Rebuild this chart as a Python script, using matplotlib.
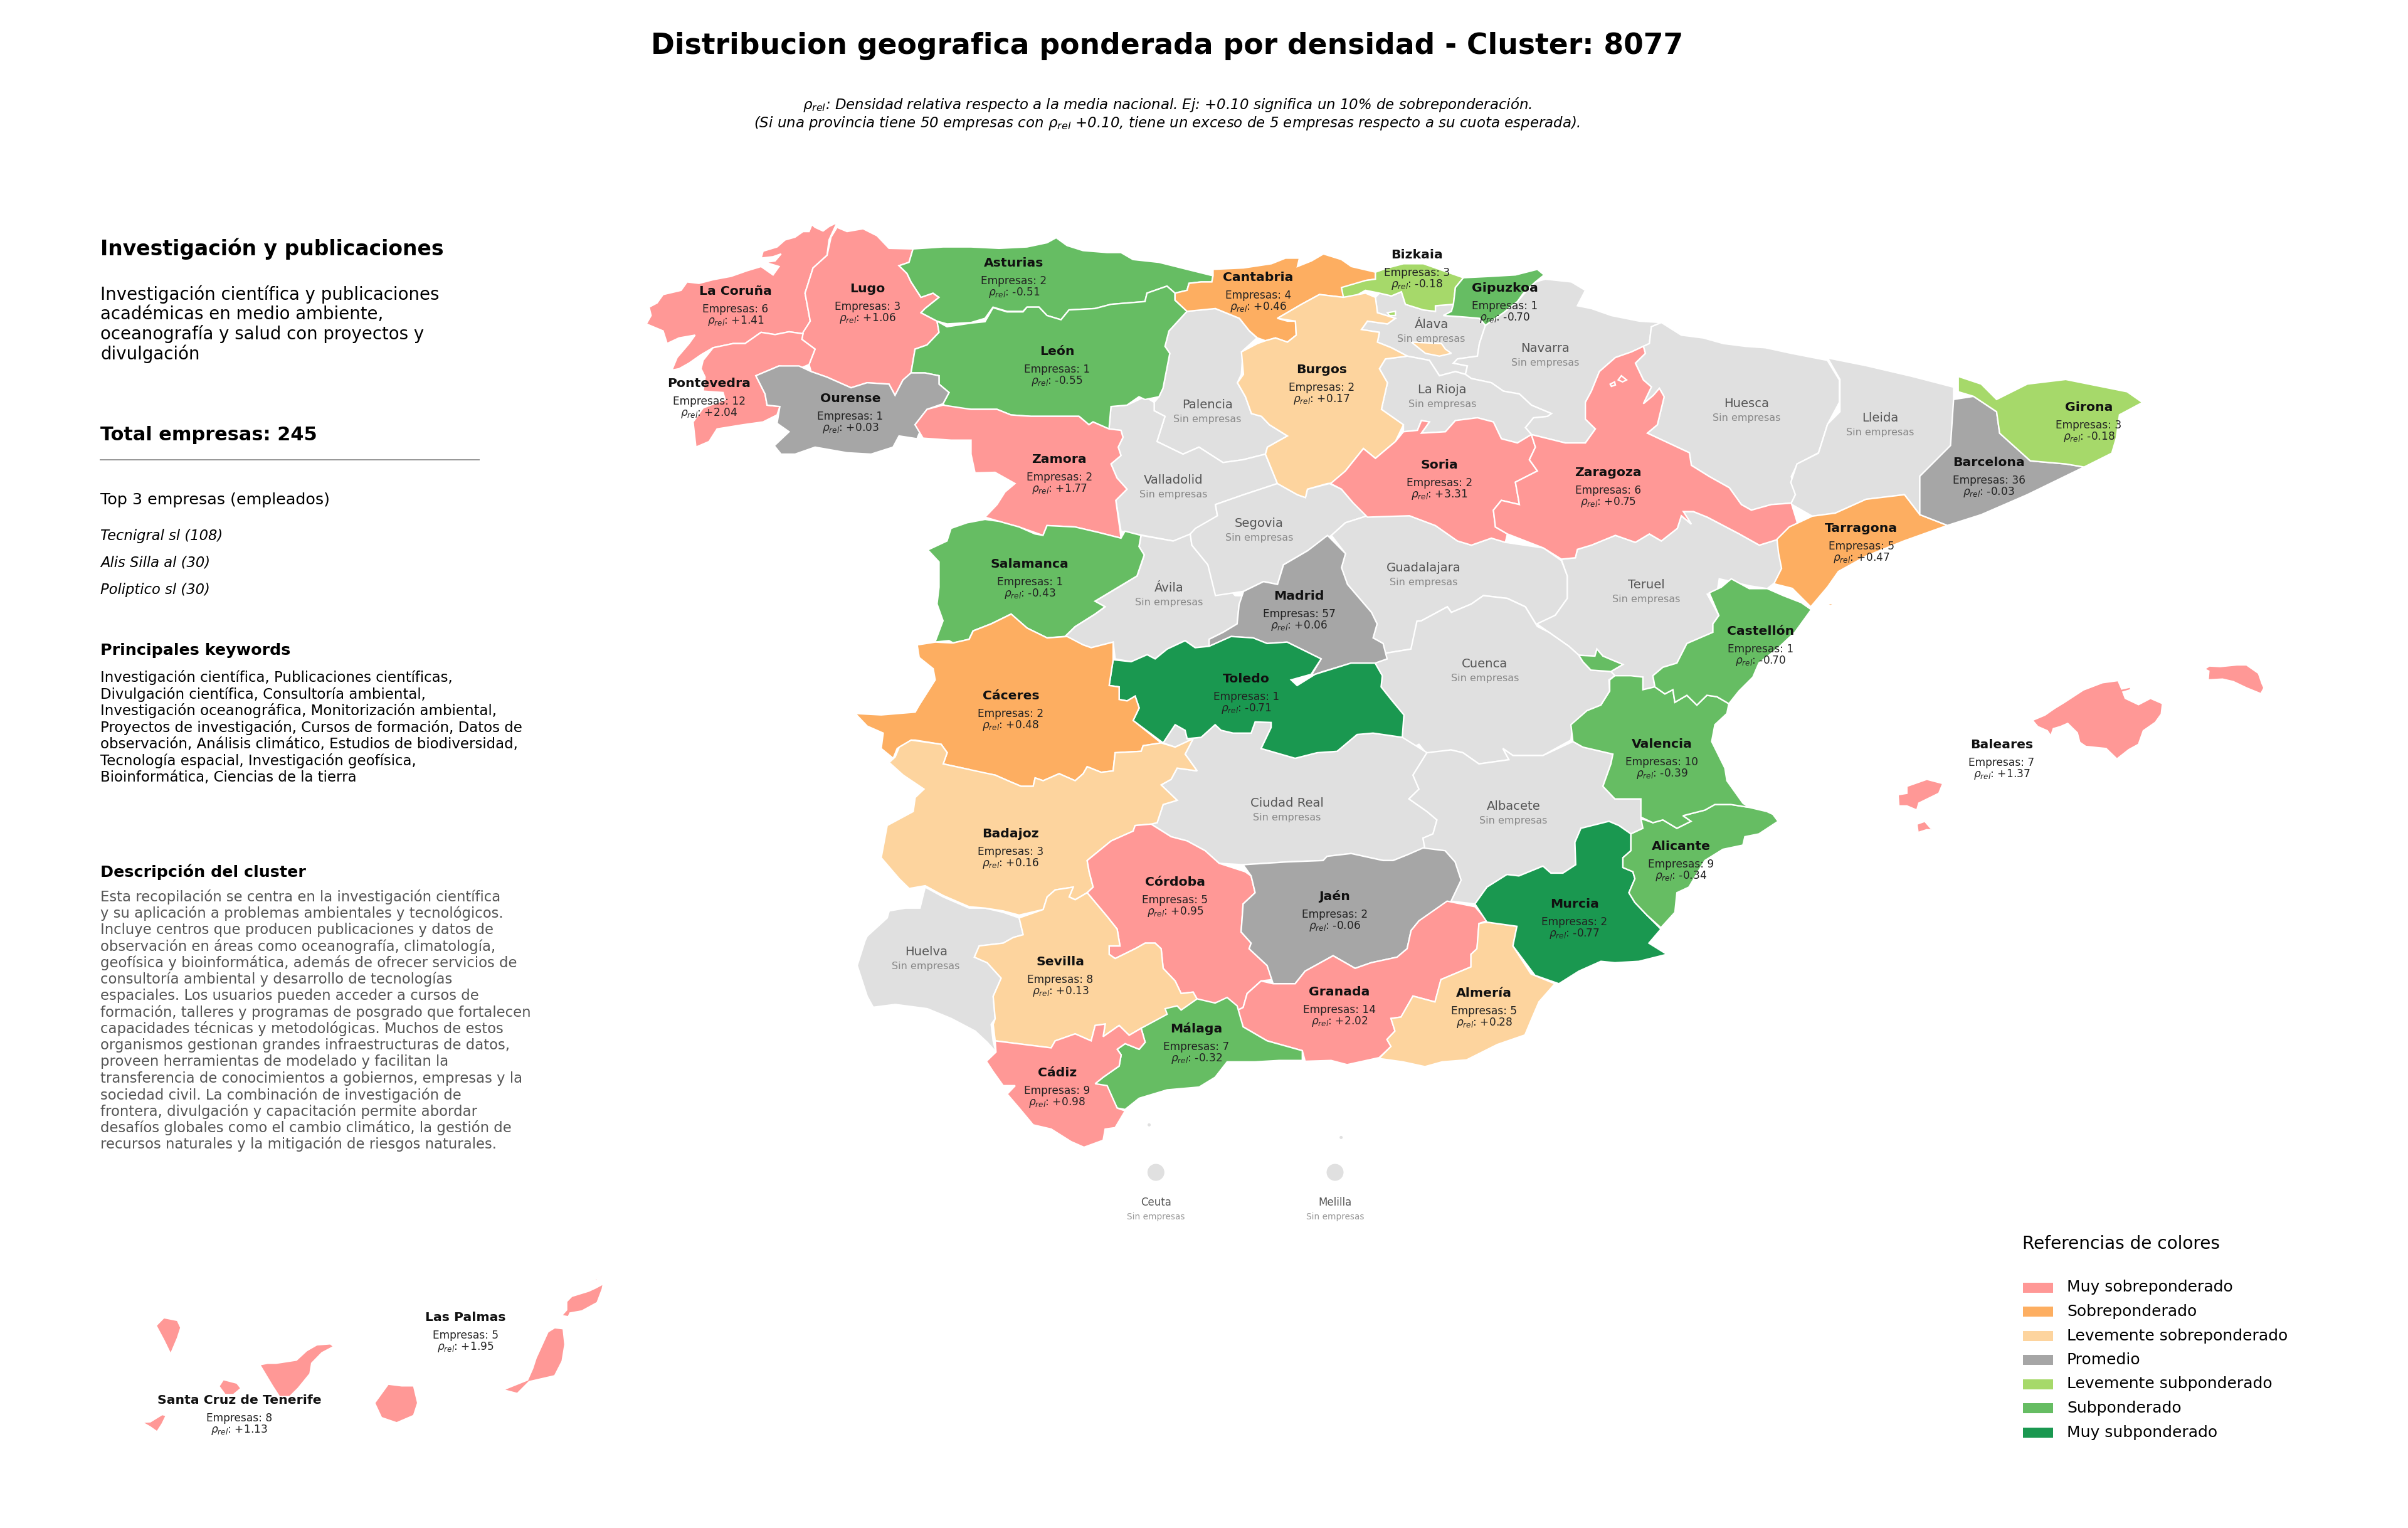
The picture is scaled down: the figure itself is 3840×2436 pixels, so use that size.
import matplotlib
matplotlib.use("Agg")
import matplotlib.pyplot as plt
from matplotlib.patches import Polygon, Circle, Rectangle

# provincias con empresas
provincias = ["La Coruña", "Lugo", "Asturias", "León", "Pontevedra", "Ourense", "Zamora", "Salamanca",
              "Cantabria", "Bizkaia", "Gipuzkoa", "Burgos", "Soria", "Zaragoza", "Madrid", "Toledo",
              "Cáceres", "Badajoz", "Córdoba", "Jaén", "Sevilla", "Granada", "Málaga", "Cádiz",
              "Almería", "Murcia", "Alicante", "Valencia", "Castellón", "Tarragona", "Barcelona",
              "Girona", "Baleares", "Las Palmas", "Santa Cruz de Tenerife"]
empresas = [6, 3, 2, 1, 12, 1, 2, 1, 4, 3, 1, 2, 2, 6, 57, 1, 2, 3, 5, 2, 8, 14, 7, 9, 5, 2, 9, 10, 1, 5, 36, 3, 7, 5, 8]
rho = [1.41, 1.06, -0.51, -0.55, 2.04, 0.03, 1.77, -0.43, 0.46, -0.18, -0.70, 0.17, 3.31, 0.75, 0.06, -0.71,
       0.48, 0.16, 0.95, -0.06, 0.13, 2.02, -0.32, 0.98, 0.28, -0.77, -0.34, -0.39, -0.70, 0.47, -0.03,
       -0.18, 1.37, 1.95, 1.13]
sin_empresas = ["Palencia", "Valladolid", "Ávila", "Segovia", "Álava", "Navarra", "La Rioja", "Huesca",
                "Lleida", "Guadalajara", "Teruel", "Cuenca", "Ciudad Real", "Albacete", "Huelva"]

categorias = ["Muy sobreponderado", "Sobreponderado", "Levemente sobreponderado", "Promedio",
              "Levemente subponderado", "Subponderado", "Muy subponderado"]
colores = ["#ff9896", "#fdae61", "#fdd49e", "#a6a6a6", "#a6d96a", "#66bd63", "#1a9850"]
limites = [0.5, 0.3, 0.1, -0.1, -0.3, -0.705]
sin_color = "#e0e0e0"

titulo = "Distribucion geografica ponderada por densidad - Cluster: 8077"
nota1 = r"$\rho_{rel}$: Densidad relativa respecto a la media nacional. Ej: +0.10 significa un 10% de sobreponderación."
nota2 = r"(Si una provincia tiene 50 empresas con $\rho_{rel}$ +0.10, tiene un exceso de 5 empresas respecto a su cuota esperada)."
nombre_cluster = "Investigación y publicaciones"
resumen = ["Investigación científica y publicaciones", "académicas en medio ambiente,",
           "oceanografía y salud con proyectos y", "divulgación"]
top3 = ["Tecnigral sl (108)", "Alis Silla al (30)", "Poliptico sl (30)"]
keywords = ["Investigación científica, Publicaciones científicas,",
            "Divulgación científica, Consultoría ambiental,",
            "Investigación oceanográfica, Monitorización ambiental,",
            "Proyectos de investigación, Cursos de formación, Datos de",
            "observación, Análisis climático, Estudios de biodiversidad,",
            "Tecnología espacial, Investigación geofísica,",
            "Bioinformática, Ciencias de la tierra"]
descripcion = ["Esta recopilación se centra en la investigación científica",
               "y su aplicación a problemas ambientales y tecnológicos.",
               "Incluye centros que producen publicaciones y datos de",
               "observación en áreas como oceanografía, climatología,",
               "geofísica y bioinformática, además de ofrecer servicios de",
               "consultoría ambiental y desarrollo de tecnologías",
               "espaciales. Los usuarios pueden acceder a cursos de",
               "formación, talleres y programas de posgrado que fortalecen",
               "capacidades técnicas y metodológicas. Muchos de estos",
               "organismos gestionan grandes infraestructuras de datos,",
               "proveen herramientas de modelado y facilitan la",
               "transferencia de conocimientos a gobiernos, empresas y la",
               "sociedad civil. La combinación de investigación de",
               "frontera, divulgación y capacitación permite abordar",
               "desafíos globales como el cambio climático, la gestión de",
               "recursos naturales y la mitigación de riesgos naturales."]

# contornos calcados del mapa, cada tramo en su recorte (x0, y0, escala x, escala y)
recortes = {"nw": (1000, 320, 1.568, 2.24), "ne": (1900, 320, 1.568, 2.24), "c": (1300, 950, 1.568, 2.24),
            "s": (1300, 1300, 1.568, 2.24), "e": (2250, 950, 1.568, 2.24), "full": (0, 0, 0.4083, 0.4083),
            "bal": (3150, 1040, 2.613, 3.0), "can": (180, 2010, 1.845, 3.0), "ceu": (1750, 1800, 3.0, 3.0)}

contornos = {
    "La Coruña": [("nw", [(525,78),(505,92),(490,108),(470,95),(462,85),(455,110),(440,110),(420,130),(395,140),(375,165),(340,180),(335,205),(365,200),(385,190),(370,215),(345,220),(380,235),(365,265),(335,235),(300,250),(260,270),(215,282),(180,295),(150,290),(135,320),(90,335),(75,365),(55,380),(60,410),(48,440),(90,465),(100,510),(130,490),(170,480),(155,510),(125,560),(112,605),(130,600),(155,580),(185,550),(215,525),(265,510),(295,510),(335,470),(370,478),(405,468),(440,475),(458,430),(445,330),(465,240),(500,195),(505,140)])],
    "Lugo": [("nw", [(525,95),(550,110),(590,100),(625,125),(655,170),(715,172),(705,220),(680,232),(700,260),(710,290),(735,345),(765,330),(780,345),(745,385),(735,400),(775,430),(780,470),(750,515),(720,530),(710,615),(690,640),(670,695),(655,655),(600,650),(560,668),(500,630),(460,610),(455,585),(470,530),(437,495),(440,470),(458,430),(445,330),(465,240),(500,195),(510,130)])],
    "Asturias": [("nw", [(715,172),(790,165),(860,165),(930,170),(1000,165),(1050,150),(1073,132),(1100,160),(1140,178),(1200,185),(1235,185),(1265,210),(1330,220),(1400,245),(1465,268),(1462,290),(1435,290),(1405,295),(1400,320),(1370,330),(1350,305),(1300,330),(1295,360),(1210,370),(1170,385),(1105,390),(1085,425),(1050,410),(1030,380),(1000,380),(990,395),(950,395),(915,380),(895,420),(860,435),(800,440),(775,430),(735,400),(745,385),(780,345),(765,330),(735,345),(710,290),(700,260),(680,232),(705,220)])],
    "León": [("nw", [(775,430),(800,450),(860,437),(895,432),(915,382),(950,397),(990,397),(1000,380),(1030,380),(1050,410),(1085,425),(1105,390),(1170,385),(1210,370),(1295,360),(1300,330),(1350,305),(1370,330),(1370,355),(1400,395),(1355,465),(1345,520),(1357,545),(1340,670),(1330,700),(1295,710),(1280,700),(1250,730),(1210,735),(1205,815),(1165,790),(1155,800),(1130,770),(1090,770),(1050,770),(1010,770),(960,765),(925,745),(860,745),(800,740),(790,725),(805,685),(780,655),(780,625),(745,615),(710,615),(720,530),(750,515),(780,470)])],
    "Pontevedra": [("nw", [(440,475),(405,468),(370,478),(335,470),(295,510),(265,510),(215,525),(190,570),(185,600),(195,630),(190,680),(240,685),(245,710),(190,740),(165,790),(172,880),(205,860),(225,815),(290,800),(340,790),(375,765),(382,735),(350,730),(345,690),(322,625),(380,590),(430,600),(455,585),(470,530),(437,495)])],
    "Ourense": [("nw", [(322,625),(380,590),(430,590),(460,610),(500,630),(560,668),(600,650),(655,655),(670,695),(690,640),(710,615),(745,615),(780,625),(780,655),(805,685),(790,725),(750,745),(720,800),(735,815),(725,850),(680,840),(665,880),(610,905),(550,900),(470,880),(420,905),(385,905),(368,875),(405,825),(375,795),(382,735),(350,730),(345,690)])],
    "Zamora": [("nw", [(790,730),(860,745),(925,745),(960,765),(1010,770),(1090,770),(1130,770),(1155,800),(1165,790),(1205,815),(1235,820),(1240,845),(1228,880),(1235,910),(1210,940),(1225,990),(1250,1030),(1222,1070),(1232,1170),(1235,1205),(1180,1185),(1120,1165),(1050,1160),(1040,1195),(980,1165),(930,1145),(895,1130),(925,1085),(945,1040),(970,1010),(920,970),(870,972),(860,905),(860,855),(810,855),(740,848),(720,800),(750,745)])],
    "Salamanca": [("nw", [(895,1138),(930,1145),(980,1165),(1020,1190),(1040,1195),(1050,1160),(1120,1165),(1180,1185),(1235,1205),(1245,1180),(1285,1195),(1280,1235),(1293,1265),(1275,1340),(1170,1430),(1195,1450),(1170,1476),(1120,1521),(1095,1556),(1050,1561),(1000,1526),(960,1476),(910,1511),(865,1536),(855,1566),(815,1579),(805,1571),(770,1576),(790,1500),(775,1440),(780,1380),(780,1290),(752,1247),(800,1215),(810,1170),(850,1150)])],
    "Palencia": [("nw", [(1400,395),(1470,385),(1531,420),(1556,465),(1575,490),(1540,535),(1536,620),(1526,650),(1546,700),(1561,760),(1586,770),(1606,800),(1651,840),(1601,880),(1596,905),(1540,925),(1490,935),(1430,880),(1390,905),(1325,860),(1345,770),(1318,750),(1318,720),(1330,700),(1340,670),(1357,545),(1345,520),(1355,465)])],
    "Valladolid": [("nw", [(1210,735),(1250,730),(1295,700),(1318,720),(1318,750),(1345,770),(1325,860),(1390,905),(1430,880),(1490,935),(1540,925),(1596,905),(1626,1010),(1541,1050),(1471,1085),(1476,1125),(1410,1190),(1420,1215),(1365,1215),(1290,1195),(1235,1180),(1222,1070),(1250,1030),(1225,990),(1210,940),(1235,910),(1228,880),(1240,845),(1235,820),(1205,815)])],
    "Ávila": [("c", [(815,-216),(895,-196),(938,-221),(942,-181),(982,-111),(1050,-1),(1080,0),(1060,30),(1055,100),(1020,130),(985,155),(985,180),(950,185),(925,160),(880,190),(850,225),(830,210),(790,235),(750,225),(745,165),(690,185),(670,175),(625,145),(650,110),(700,65),(725,39),(700,19),(805,-71),(823,-146),(810,-176)])],
    "Segovia": [("ne", [(215,1010),(265,1050),(285,1060),(290,1030),(345,1010),(375,1030),(405,1080),(440,1125),(385,1150),(350,1195),(290,1250),(230,1300),(215,1370),(180,1360),(130,1395),(60,1410),(41,1300),(1,1230),(-3,1190),(10,1170),(65,1125),(60,1085),(130,1050)])],
    "Madrid": [("c", [(1281,-216),(1326,-151),(1316,-101),(1331,-41),(1391,59),(1405,100),(1395,150),(1420,170),(1430,225),(1400,240),(1340,240),(1270,270),(1240,285),(1265,225),(1180,165),(1130,170),(1095,150),(1040,145),(985,180),(985,155),(1020,130),(1055,100),(1060,30),(1071,-16),(1121,-51),(1156,-41),(1171,-111),(1231,-161)])],
    "Toledo": [("c", [(745,228),(790,235),(830,210),(850,225),(880,190),(925,160),(950,185),(985,180),(1040,145),(1095,150),(1130,170),(1180,165),(1265,225),(1240,280),(1190,300),(1205,320),(1250,280),(1340,240),(1400,240),(1418,285),(1415,325),(1440,370),(1472,425),(1468,505),(1395,490),(1355,495),(1305,555),(1255,560),(1200,580),(1115,545),(1140,470),(1140,452),(1100,450),(1090,490),(1045,490),(1015,480),(1000,460),(965,505),(930,510),(925,480),(900,460),(870,525),(795,445),(810,400),(800,358),(780,375),(760,370),(760,325),(735,320)])],
    "Cáceres": [("c", [(300,165),(345,168),(385,155),(395,125),(440,100),(490,65),(530,115),(580,150),(630,145),(670,175),(690,185),(745,165),(745,228),(735,320),(760,325),(760,370),(780,375),(800,358),(810,400),(795,445),(865,525),(820,535),(815,555),(750,560),(745,625),(715,630),(680,610),(670,635),(650,660),(610,635),(570,660),(550,650),(545,680),(515,680),(490,665),(450,640),(390,625),(385,620),(320,600),(330,560),(315,530),(250,515),(240,515),(205,545),(195,580),(165,545),(170,490),(130,465),(100,420),(165,425),(250,415),(260,390),(300,300),(295,260),(260,220),(255,175)])],
    "Badajoz": [("c", [(240,515),(315,530),(330,560),(320,600),(385,620),(450,640),(490,665),(515,680),(545,680),(550,650),(570,660),(610,635),(650,660),(670,635),(680,610),(715,630),(745,625),(750,560),(815,555),(820,535),(865,525),(900,540),(945,510),(925,565),(955,625),(905,615),(890,655),(865,675),(905,730),(870,745),(855,810),(840,815),(800,820),(795,840),(740,875),(680,945),(685,985),(695,1040),(680,1060),(650,1085),(635,1075),(645,1040),(600,1050),(580,1075),(570,1120),(510,1140),(470,1125),(425,1115),(385,1110),(320,1070),(275,1035),(235,1045),(210,1010),(165,935),(180,820),(245,770),(250,720),(272,690),(220,640),(185,595),(200,575),(210,540)])],
    "Huelva": [("c", [(275,1040),(320,1075),(385,1115),(425,1115),(470,1130),(510,1150),(520,1210),(495,1220),(470,1240),(410,1250),(398,1290),(430,1310),(465,1365),(445,1430),(450,1510),(440,1530),(445,1590),(452,1629),(430,1594),(400,1554),(340,1509),(280,1474),(200,1459),(145,1469),(130,1430),(105,1320),(125,1230),(130,1215),(180,1150),(185,1125),(225,1115),(262,1115)])],
    "Sevilla": [("c", [(510,1150),(570,1120),(580,1075),(600,1050),(645,1040),(635,1075),(650,1085),(680,1060),(730,1145),(755,1190),(762,1250),(735,1250),(735,1280),(750,1295),(800,1260),(825,1240),(850,1240),(865,1260),(870,1330),(900,1375),(915,1420),(945,1415),(955,1440),(940,1465),(905,1490),(880,1500),(815,1544),(785,1569),(760,1534),(720,1574),(725,1529),(700,1534),(690,1589),(650,1564),(600,1589),(590,1614),(450,1589),(445,1530),(450,1510),(445,1430),(465,1365),(430,1310),(398,1290),(410,1250),(470,1240),(495,1220),(520,1210)])],
    "Córdoba": [("c", [(800,820),(840,815),(890,860),(930,875),(975,910),(1010,955),(1075,985),(1090,1000),(1100,1060),(1070,1100),(1065,1200),(1090,1240),(1085,1260),(1130,1320),(1145,1370),(1115,1375),(1080,1420),(1070,1470),(1055,1480),(1030,1435),(1010,1450),(970,1460),(955,1440),(945,1415),(915,1420),(900,1375),(870,1330),(865,1260),(850,1240),(825,1240),(800,1260),(750,1295),(735,1280),(735,1250),(762,1250),(755,1190),(730,1145),(680,1060),(695,1040),(685,985),(680,945),(740,875),(795,840)])],
    "Jaén": [("c", [(1070,960),(1180,950),(1270,945),(1280,930),(1340,920),(1420,945),(1445,945),(1480,925),(1520,900),(1575,910),(1600,950),(1615,1015),(1590,1090),(1565,1125),(1510,1160),(1490,1195),(1480,1260),(1455,1290),(1390,1310),(1350,1330),(1295,1285),(1225,1340),(1200,1385),(1145,1385),(1130,1320),(1085,1260),(1090,1240),(1065,1200),(1070,1100),(1100,1060),(1090,1000)])],
    "Granada": [("c", [(1145,1385),(1200,1385),(1225,1340),(1295,1285),(1350,1330),(1390,1310),(1455,1290),(1480,1260),(1490,1195),(1510,1160),(1580,1090),(1650,1110),(1680,1160),(1660,1170),(1655,1260),(1640,1280),(1640,1325),(1565,1370),(1550,1450),(1495,1429),(1465,1504),(1440,1509),(1450,1554),(1430,1584),(1440,1609),(1410,1649),(1330,1674),(1290,1659),(1225,1662),(1218,1624),(1130,1589),(1070,1539),(1055,1480),(1070,1470),(1080,1420),(1115,1375)])],
    "Almería": [("e", [(170,1170),(190,1165),(265,1180),(255,1250),(300,1350),(360,1385),(320,1450),(305,1500),(285,1568),(216,1602),(139,1657),(78,1664),(35,1681),(-20,1664),(-80,1652),(-50,1609),(-60,1584),(-40,1554),(-50,1509),(-25,1504),(5,1429),(60,1450),(75,1370),(150,1325),(150,1280),(165,1260)])],
    "Málaga": [("s", [(955,655),(1000,670),(1030,650),(1055,680),(1070,755),(1130,805),(1218,840),(1218,875),(1160,875),(1100,880),(1030,880),(1000,935),(960,970),(880,980),(810,1010),(775,1050),(755,1045),(730,975),(700,960),(675,965),(700,958),(720,935),(760,895),(765,855),(755,835),(775,815),(810,835),(825,810),(815,760),(880,710),(875,690),(905,680),(915,695),(945,665)])],
    "Cádiz": [("s", [(450,805),(590,830),(600,805),(650,780),(690,805),(700,750),(725,745),(720,790),(760,750),(785,785),(815,760),(825,810),(810,835),(775,815),(755,835),(765,855),(760,895),(720,935),(700,958),(730,965),(755,1045),(775,1055),(750,1115),(725,1120),(720,1160),(672,1185),(640,1165),(590,1120),(545,1105),(510,1045),(480,995),(500,965),(470,965),(445,915),(428,878),(452,845)])],
    "Cantabria": [("ne", [(54,245),(130,240),(200,225),(235,205),(270,205),(265,235),(300,215),(330,190),(375,210),(400,235),(460,255),(460,280),(435,285),(380,320),(380,345),(320,335),(275,370),(215,420),(240,430),(260,430),(262,480),(240,505),(210,490),(185,500),(165,490),(145,465),(120,420),(60,385),(-11,395),(-41,355),(-41,330),(-11,320),(-6,295),(24,290),(51,290),(54,268)])],
    "Burgos": [("ne", [(380,345),(435,330),(460,345),(465,400),(510,420),(490,440),(440,430),(425,460),(470,470),(465,505),(500,525),(540,555),(485,565),(470,600),(490,650),(475,745),(530,800),(510,860),(460,920),(430,885),(385,965),(375,1005),(340,1010),(290,1030),(285,1060),(265,1050),(215,1010),(185,905),(190,880),(240,840),(195,800),(175,770),(150,760),(135,700),(115,650),(130,620),(125,540),(165,510),(185,500),(210,490),(240,505),(262,480),(260,430),(215,420),(275,370),(320,335)]),
               ("ne", [(550,505),(625,510),(635,530),(650,545),(620,555),(585,545)])],
    "Bizkaia": [("ne", [(460,255),(490,240),(530,225),(580,225),(640,255),(680,275),(660,310),(655,370),(610,375),(610,395),(580,390),(535,370),(525,325),(500,340),(470,330),(435,320),(410,340),(380,345),(375,310),(435,285),(460,280)]),
                ("ne", [(490,400),(510,395),(510,410),(495,410)])],
    "Gipuzkoa": [("ne", [(680,275),(750,270),(810,265),(865,245),(882,265),(860,290),(830,330),(815,360),(780,400),(735,445),(720,420),(680,415),(630,410),(650,395),(655,370),(660,310)])],
    "Álava": [("ne", [(470,330),(500,340),(525,325),(535,370),(580,390),(610,395),(610,375),(655,370),(650,395),(630,410),(680,415),(720,420),(735,445),(720,510),(715,555),(665,565),(655,580),(690,590),(685,620),(660,610),(620,625),(595,570),(540,555),(500,525),(465,505),(470,470),(425,460),(440,430),(490,440),(510,420),(465,400),(460,345)])],
    "La Rioja": [("ne", [(485,565),(540,555),(595,570),(620,625),(660,610),(685,620),(700,635),(750,650),(780,680),(820,690),(850,730),(900,760),(890,770),(855,775),(835,810),(850,835),(815,865),(775,850),(755,790),(715,775),(660,785),(635,825),(575,830),(595,790),(575,785),(565,820),(530,825),(530,800),(475,745),(490,650),(470,600)])],
    "Navarra": [("ne", [(830,335),(860,290),(885,280),(950,290),(985,320),(965,375),(1000,385),(1050,410),(1120,430),(1175,435),(1150,450),(1145,510),(1130,520),(1100,540),(1060,560),(1020,610),(1000,680),(985,720),(985,780),(1010,815),(985,865),(935,865),(850,835),(835,810),(855,775),(890,770),(900,760),(850,730),(820,690),(780,680),(750,650),(700,635),(685,620),(690,590),(655,580),(665,565),(715,555),(720,510),(735,445),(780,400),(815,360)])],
    "Zaragoza": [("ne", [(1130,520),(1135,545),(1110,580),(1130,640),(1150,665),(1130,725),(1155,695),(1170,670),(1182,700),(1165,800),(1140,830),(1200,870),(1245,900),(1250,945),(1295,985),(1345,1025),(1375,1085),(1400,1105),(1450,1085),(1500,1080),(1515,1150),(1465,1210),(1420,1230),(1370,1190),(1290,1130),(1255,1110),(1230,1110),(1250,1155),(1225,1125),(1215,1170),(1175,1215),(1145,1190),(1110,1220),(1060,1195),(1000,1230),(965,1245),(960,1275),(925,1280),(880,1240),(790,1190),(760,1165),(755,1105),(775,1070),(820,1085),(810,1005),(865,965),(845,925),(860,880),(850,835),(935,865),(985,865),(1010,815),(985,780),(985,720),(1000,680),(1020,610),(1060,560),(1100,540)]),
                 ("ne", [(1067,640),(1075,625),(1088,640),(1078,647)]),
                 ("ne", [(1047,655),(1058,647),(1060,658),(1050,663)])],
    "Soria": [("ne", [(530,825),(565,820),(575,785),(595,790),(575,830),(635,825),(660,785),(715,775),(755,790),(775,850),(815,865),(850,835),(860,880),(845,925),(865,965),(810,1005),(820,1085),(775,1070),(755,1105),(760,1165),(790,1190),(785,1220),(750,1205),(700,1230),(665,1215),(610,1160),(545,1125),(440,1130),(405,1080),(375,1030),(348,1010),(385,965),(430,885),(460,920),(510,860)])],
    "Huesca": [("ne", [(1150,450),(1175,435),(1225,480),(1280,490),(1330,510),(1385,520),(1435,525),(1500,545),(1590,570),(1620,640),(1620,720),(1590,800),(1568,900),(1515,940),(1500,985),(1510,1050),(1500,1080),(1450,1085),(1400,1105),(1375,1085),(1345,1025),(1295,985),(1250,945),(1245,900),(1200,870),(1140,830),(1165,800),(1182,700),(1170,670),(1155,695),(1130,725),(1150,665),(1130,640),(1110,580),(1135,545),(1130,520),(1145,510)])],
    "Teruel": [("e", [(376,-131),(411,-136),(416,-166),(451,-181),(511,-216),(561,-191),(596,-221),(626,-196),(666,-241),(676,-286),(701,-256),(681,-301),(706,-301),(741,-281),(821,-221),(871,-181),(916,-201),(931,-111),(926,-61),(906,-43),(891,-26),(846,-36),(771,-61),(766,-16),(741,-6),(770,70),(755,100),(755,130),(690,170),(665,240),(630,255),(605,285),(610,325),(580,335),(580,290),(510,285),(500,270),(530,245),(480,215),(465,190),(460,215),(420,212),(395,180),(345,130),(315,100),(361,69),(391,9),(391,-71)])],
    "Castellón": [("e", [(746,-11),(776,-31),(801,-61),(846,-26),(891,-26),(931,-1),(976,24),(1001,49),(960,130),(915,190),(870,240),(855,290),(820,340),(795,385),(765,360),(740,355),(715,390),(690,355),(660,380),(655,335),(635,350),(610,325),(605,285),(630,255),(665,240),(690,170),(755,130),(755,100),(770,70)])],
    "Tarragona": [("full", [(1157,351),(1165,343),(1180,336),(1195,334),(1215,325),(1240,322),(1250,335),(1268,342),(1240,352),(1215,362),(1197,372),(1190,382),(1179,395),(1167,383),(1155,380),(1160,370),(1158,360)]),
                  ("e", [(1035,30),(1060,25),(1050,35)])],
    "Lleida": [("full", [(1190,233),(1215,238),(1245,245),(1272,252),(1272,262),(1272,290),(1250,310),(1250,335),(1240,322),(1215,325),(1195,334),(1180,336),(1166,328),(1169,322),(1166,314),(1170,302),(1184,295),(1190,276),(1198,268),(1198,247)])],
    "Barcelona": [("full", [(1272,260),(1285,258),(1300,268),(1302,282),(1322,300),(1345,302),(1357,304),(1320,322),(1290,335),(1268,342),(1250,335),(1250,310),(1270,290)])],
    "Girona": [("full", [(1275,245),(1290,250),(1300,260),(1320,250),(1345,247),(1385,255),(1395,262),(1380,270),(1378,285),(1375,295),(1357,304),(1345,302),(1322,300),(1302,282),(1300,268),(1285,258),(1275,255)])],
    "Guadalajara": [("ne", [(440,1125),(545,1125),(610,1160),(665,1215),(700,1230),(750,1205),(785,1220),(880,1240),(925,1285),(940,1340),(940,1420),(910,1480),(865,1520),(835,1450),(790,1420),(730,1410),(700,1440),(650,1470),(640,1450),(575,1500),(549,1601),(484,1616),(479,1581),(454,1561),(464,1511),(450,1470),(390,1370),(375,1310),(385,1260),(350,1195),(385,1150)])],
    "Cuenca": [("e", [(-90,240),(-60,225),(-65,205),(0,190),(15,90),(26,89),(91,39),(101,59),(151,29),(181,-1),(241,9),(286,39),(316,109),(345,130),(395,180),(420,212),(430,235),(450,265),(500,270),(510,285),(495,300),(497,340),(475,390),(440,410),(405,460),(400,515),(330,570),(255,570),(230,545),(245,585),(170,600),(130,560),(100,550),(40,565),(20,530),(0,545),(-40,560),(-22,505),(-18,425),(-75,325),(-72,285)])],
    "Ciudad Real": [("c", [(870,525),(900,460),(925,480),(930,510),(965,505),(1000,460),(1015,480),(1045,490),(1090,490),(1100,450),(1140,452),(1140,470),(1115,545),(1200,580),(1255,560),(1305,555),(1355,495),(1395,490),(1468,505),(1530,560),(1495,640),(1510,690),(1485,725),(1530,770),(1555,800),(1545,850),(1520,865),(1525,905),(1480,925),(1445,945),(1420,945),(1340,920),(1280,930),(1270,945),(1180,950),(1070,960),(1010,955),(975,910),(930,875),(890,860),(840,815),(855,810),(870,745),(905,730),(865,675),(890,655),(905,615),(955,625),(925,565),(945,510),(900,540)])],
    "Albacete": [("e", [(40,560),(100,550),(130,560),(170,600),(245,585),(230,545),(255,570),(330,570),(405,520),(430,540),(505,565),(500,600),(480,680),(510,725),(575,725),(578,790),(580,830),(550,850),(520,820),(495,805),(425,830),(410,880),(412,960),(380,990),(350,990),(330,965),(270,1000),(240,995),(190,1040),(160,1100),(100,1090),(125,1015),(110,950),(85,910),(35,905),(30,865),(55,850),(65,800),(40,770),(-5,725),(20,690),(5,640)])],
    "Valencia": [("e", [(497,300),(510,285),(550,285),(580,290),(580,335),(610,325),(635,350),(655,335),(660,380),(690,355),(715,390),(740,355),(765,360),(795,385),(790,420),(760,460),(752,520),(785,615),(790,660),(830,740),(845,755),(800,745),(760,745),(735,765),(680,785),(700,805),(665,830),(630,800),(605,810),(575,790),(575,725),(510,725),(480,680),(500,600),(505,565),(430,540),(405,520),(400,460),(440,410),(475,390),(497,340)]),
                 ("e", [(420,212),(460,215),(465,190),(480,215),(530,245),(500,270),(450,265),(430,235)])],
    "Alicante": [("e", [(575,795),(605,810),(630,800),(665,830),(700,805),(680,785),(735,765),(760,745),(800,745),(845,755),(890,770),(905,780),(918,805),(870,850),(835,860),(830,890),(780,905),(735,945),(695,1040),(665,1060),(660,1130),(625,1185),(590,1140),(560,1095),(545,1060),(560,1010),(555,985),(530,970),(530,935),(550,910),(550,850),(580,830)])],
    "Murcia": [("e", [(160,1100),(190,1040),(240,995),(270,1000),(330,965),(350,990),(380,990),(412,960),(410,880),(425,830),(495,805),(520,820),(550,850),(550,910),(530,935),(530,970),(555,985),(560,1010),(545,1060),(560,1095),(590,1140),(625,1190),(595,1240),(640,1280),(570,1305),(510,1310),(475,1305),(420,1340),(370,1385),(310,1355),(255,1250),(265,1180),(190,1165)])],
    "Baleares": [("bal", [(238,325),(290,300),(330,268),(370,240),(410,210),(450,180),(530,145),(595,135),(610,175),(650,165),(645,180),(615,190),(625,220),(680,250),(730,220),(780,245),(775,295),(750,335),(700,375),(680,440),(640,465),(590,510),(545,460),(460,450),(435,430),(425,385),(385,340),(355,355),(325,365),(315,400),(300,375),(260,355)]),
                 ("bal", [(955,80),(975,65),(1020,68),(1090,60),(1130,60),(1180,100),(1195,150),(1203,170),(1190,198),(1130,170),(1075,140),(1030,128),(970,132),(973,90)]),
                 ("bal", [(520,580),(535,585),(525,590)]),
                 ("e", [(1240,680),(1290,655),(1330,670),(1320,705),(1270,740),(1265,765),(1240,750),(1220,750),(1218,710),(1240,705)]),
                 ("e", [(1265,815),(1285,805),(1300,830),(1320,838),(1290,835),(1268,845)])],
    "Las Palmas": [("can", [(770,680),(810,590),(850,598),(885,598),(897,680),(885,740),(835,775),(790,750)]),
                   ("can", [(1148,617),(1220,570),(1235,515),(1245,465),(1280,340),(1300,320),(1325,325),(1330,400),(1322,480),(1300,550),(1225,578),(1190,635)]),
                   ("can", [(1320,262),(1335,235),(1335,195),(1350,170),(1400,145),(1420,130),(1443,110),(1440,135),(1425,200),(1380,240),(1345,250),(1340,268)]),
                   ("can", [(1415,95),(1425,80),(1425,95)])],
    "Santa Cruz de Tenerife": [("can", [(127,310),(150,272),(190,285),(200,320),(190,370),(170,447),(150,380)]),
                               ("can", [(312,600),(325,568),(365,585),(377,610),(355,640),(330,640)]),
                               ("can", [(432,497),(455,490),(480,490),(540,475),(570,430),(600,402),(640,397),(650,410),(615,440),(585,490),(580,540),(545,610),(520,650),(490,650),(470,600)]),
                               ("can", [(85,772),(110,770),(145,735),(157,740),(145,780),(130,818),(110,795)])],
}

# donde va la etiqueta de cada provincia (centro del nombre)
etiquetas = {"La Coruña": ("nw", 271, 323), "Lugo": ("nw", 601, 315), "Asturias": ("nw", 967, 222), "León": ("nw", 1075, 538),
             "Pontevedra": ("nw", 205, 653), "Ourense": ("nw", 558, 706), "Zamora": ("nw", 1081, 925), "Salamanca": ("nw", 1007, 1298),
             "Palencia": ("nw", 1451, 730), "Valladolid": ("nw", 1366, 998), "Ávila": ("nw", 1355, 1384),
             "Cantabria": ("ne", 167, 275), "Bizkaia": ("ne", 564, 193), "Gipuzkoa": ("ne", 784, 312), "Álava": ("ne", 600, 442),
             "Navarra": ("ne", 884, 528), "Burgos": ("ne", 325, 604), "La Rioja": ("ne", 627, 675), "Soria": ("ne", 620, 945),
             "Zaragoza": ("ne", 1042, 972), "Huesca": ("ne", 1388, 724), "Segovia": ("ne", 169, 1153), "Guadalajara": ("ne", 580, 1312),
             "Teruel": ("ne", 1137, 1373), "Madrid": ("ne", 269, 1412),
             "Toledo": ("c", 1078, 297), "Cáceres": ("c", 489, 357), "Badajoz": ("c", 489, 851), "Ciudad Real": ("c", 1180, 740),
             "Córdoba": ("c", 900, 1022), "Jaén": ("c", 1299, 1073), "Huelva": ("c", 277, 1271), "Sevilla": ("c", 613, 1306),
             "Granada": ("c", 1311, 1414), "Málaga": ("s", 953, 762), "Cádiz": ("s", 605, 920),
             "Castellón": ("e", 874, 127), "Cuenca": ("e", 185, 244), "Valencia": ("e", 627, 530), "Albacete": ("e", 256, 752),
             "Alicante": ("e", 675, 895), "Murcia": ("e", 409, 1100), "Almería": ("e", 183, 1418), "Baleares": ("e", 1477, 533),
             "Lleida": ("full", 1224, 272), "Barcelona": ("full", 1295, 301), "Girona": ("full", 1360, 265), "Tarragona": ("full", 1212, 344),
             "Las Palmas": ("can", 1038, 270), "Santa Cruz de Tenerife": ("can", 372, 668),
             "Ceuta": ("ceu", 280, 352), "Melilla": ("ceu", 1137, 352)}


def to_px(crop, x, y):
    x0, y0, sx, sy = recortes[crop]
    return x0 + x / sx, y0 + y / sy


def color_de(valor):
    for lim, col in zip(limites, colores):
        if valor > lim:
            return col
    return colores[-1]


fig = plt.figure(figsize=(16, 10.15), dpi=240)
ax = fig.add_axes([0, 0, 1, 1])
ax.set_xlim(0, 3840)
ax.set_ylim(2436, 0)
ax.axis("off")

fill_de = {p: sin_color for p in sin_empresas}
for p, r in zip(provincias, rho):
    fill_de[p] = color_de(r)

for nombre in sin_empresas + provincias:
    for crop, puntos in contornos[nombre]:
        xy = [to_px(crop, a, b) for a, b in puntos]
        ax.add_patch(Polygon(xy, closed=True, facecolor=fill_de[nombre], edgecolor="white", linewidth=0.7, zorder=2))

# Ceuta y Melilla son solo un circulo
for nombre in ["Ceuta", "Melilla"]:
    c, a, b = etiquetas[nombre]
    px, py = to_px(c, a, b)
    ax.add_patch(Circle((px, 1869), 13.5, facecolor=sin_color, edgecolor="none", zorder=2))
    ax.text(px, py, nombre, fontsize=5.0, color="#555555", ha="center", va="center", zorder=5)
    ax.text(px, py + 23, "Sin empresas", fontsize=4.1, color="#999999", ha="center", va="center", zorder=5)
for a, b in [(835, 1105), (1315, 1150)]:
    px, py = to_px("s", a, b)
    ax.add_patch(Circle((px, py), 2.5, facecolor=sin_color, edgecolor="none", zorder=2))

for nombre, n, r in zip(provincias, empresas, rho):
    c, a, b = etiquetas[nombre]
    px, py = to_px(c, a, b)
    ax.text(px, py, nombre, fontsize=6.1, fontweight="bold", color="#111111", ha="center", va="center", zorder=5)
    ax.text(px, py + 28.5, f"Empresas: {n}", fontsize=5.1, color="#222222", ha="center", va="center", zorder=5)
    ax.text(px, py + 47, rf"$\rho_{{rel}}$: {r:+.2f}", fontsize=5.1, color="#222222", ha="center", va="center", zorder=5)

for nombre in sin_empresas:
    c, a, b = etiquetas[nombre]
    px, py = to_px(c, a, b)
    ax.text(px, py, nombre, fontsize=5.9, color="#555555", ha="center", va="center", zorder=5)
    ax.text(px, py + 23, "Sin empresas", fontsize=4.8, color="#888888", ha="center", va="center", zorder=5)

# titulo y nota
ax.text(1861, 74, titulo, fontsize=13.7, fontweight="bold", ha="center", va="center")
ax.text(1861, 167, nota1, fontsize=6.85, style="italic", ha="center", va="center")
ax.text(1861, 197, nota2, fontsize=6.85, style="italic", ha="center", va="center")

# panel izquierdo
ax.text(160, 397, nombre_cluster, fontsize=9.9, fontweight="bold", va="center")
for i, linea in enumerate(resumen):
    ax.text(160, 469 + i * 31.6, linea, fontsize=8.3, va="center")
ax.text(160, 693, "Total empresas: 245", fontsize=9.1, fontweight="bold", va="center")
ax.plot([160, 764], [733, 733], color="#999999", lw=0.6)
ax.text(160, 797, "Top 3 empresas (empleados)", fontsize=7.6, va="center")
for i, linea in enumerate(top3):
    ax.text(160, 855 + i * 42.5, linea, fontsize=6.8, style="italic", va="center")
ax.text(160, 1037, "Principales keywords", fontsize=7.6, fontweight="bold", va="center")
for i, linea in enumerate(keywords):
    ax.text(160, 1080 + i * 26.6, linea, fontsize=6.85, va="center")
ax.text(160, 1390, "Descripción del cluster", fontsize=7.6, fontweight="bold", va="center")
for i, linea in enumerate(descripcion):
    ax.text(160, 1430 + i * 26.3, linea, fontsize=6.83, color="#555555", va="center")

# leyenda
ax.text(3225, 1983, "Referencias de colores", fontsize=8.4, va="center")
for i, (cat, col) in enumerate(zip(categorias, colores)):
    y = 2052.5 + i * 38.5
    ax.add_patch(Rectangle((3226, y - 8), 48, 16, facecolor=col, edgecolor="none"))
    ax.text(3296, y, cat, fontsize=7.5, va="center")

fig.savefig("out.png", dpi=240)
